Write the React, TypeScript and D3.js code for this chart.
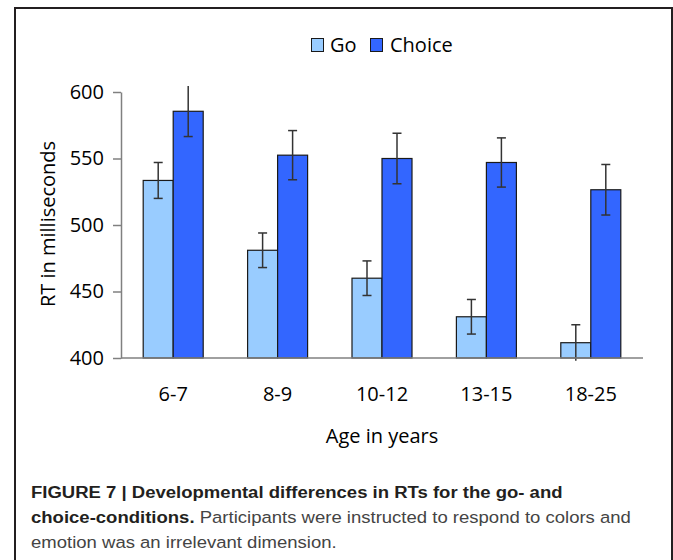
import { useRef, useEffect } from "react";
import * as d3 from "d3";

// Age groups on the x axis
const AGE_GROUPS = ["6-7", "8-9", "10-12", "13-15", "18-25"];
const SERIES = ["Go", "Choice"];

// Mean RT (ms) and error bar half-widths
const GO_RT = [533.5, 481, 460, 431, 411.5];
const GO_ERR = [13.5, 13, 13, 13, 13.5];
const CHOICE_RT = [585.5, 552.5, 550, 547, 526.5];
const CHOICE_ERR = [19, 18.5, 19, 18.5, 19];

const Y_TICKS = [400, 450, 500, 550, 600];

const COLORS: Record<string, string> = { Go: "#99ccff", Choice: "#3366ff" };

const W = 673;
const H = 560;

export default function App() {
  const svgRef = useRef<SVGSVGElement>(null);

  useEffect(() => {
    document.body.style.margin = "0";
    if (!svgRef.current) return;
    const svg = d3.select(svgRef.current);
    svg.selectAll("*").remove();

    const font = "'Open Sans', 'DejaVu Sans', sans-serif";
    const fs = 20;

    // outer frame (open at the bottom)
    svg
      .append("path")
      .attr("d", `M15,${H + 5} L15,8 L672,8 L672,${H + 5}`)
      .attr("fill", "none")
      .attr("stroke", "#231f20")
      .attr("stroke-width", 2);

    const x0 = d3.scaleBand().domain(AGE_GROUPS).range([121, 643]).padding(0);
    const x1 = d3
      .scaleBand()
      .domain(SERIES)
      .range([0, x0.bandwidth()])
      .paddingInner(0)
      .paddingOuter(0.74);
    const y = d3.scaleLinear().domain([400, 600]).range([358, 92]);

    const rows = AGE_GROUPS.map((g, i) => ({
      group: g,
      bars: [
        { s: "Go", v: GO_RT[i], e: GO_ERR[i] },
        { s: "Choice", v: CHOICE_RT[i], e: CHOICE_ERR[i] },
      ],
    }));

    // y axis
    const yAxis = svg.append("g").attr("transform", "translate(121,0)");
    yAxis.call(d3.axisLeft(y).tickValues(Y_TICKS).tickSize(8).tickPadding(9).tickSizeOuter(0));
    yAxis.select(".domain").attr("stroke", "#808080").attr("stroke-width", 1.5);
    yAxis.selectAll(".tick line").attr("stroke", "#808080").attr("stroke-width", 1.5);
    yAxis
      .selectAll(".tick text")
      .attr("fill", "#000")
      .attr("font-family", font)
      .attr("font-size", fs);

    // bars
    const groups = svg
      .selectAll("g.grp")
      .data(rows)
      .join("g")
      .attr("class", "grp")
      .attr("transform", (d) => `translate(${x0(d.group)},0)`);

    groups
      .selectAll("rect")
      .data((d) => d.bars)
      .join("rect")
      .attr("x", (d) => x1(d.s)!)
      .attr("y", (d) => y(d.v))
      .attr("width", x1.bandwidth())
      .attr("height", (d) => y(400) - y(d.v))
      .attr("fill", (d) => COLORS[d.s])
      .attr("stroke", "#1a1a1a")
      .attr("stroke-width", 1.2);

    // x axis line
    svg
      .append("line")
      .attr("x1", 121)
      .attr("x2", 643)
      .attr("y1", y(400))
      .attr("y2", y(400))
      .attr("stroke", "#808080")
      .attr("stroke-width", 1.5);

    // error bars - caps only drawn inside the axis range
    const err = groups
      .selectAll("g.err")
      .data((d) => d.bars)
      .join("g")
      .attr("class", "err")
      .attr("transform", (d) => `translate(${x1(d.s)! + x1.bandwidth() / 2},0)`);
    err
      .append("line")
      .attr("y1", (d) => y(d.v + d.e))
      .attr("y2", (d) => y(d.v - d.e))
      .attr("stroke", "#333")
      .attr("stroke-width", 1.5);
    err.each(function (d) {
      const g = d3.select(this);
      [d.v + d.e, d.v - d.e].forEach((val) => {
        if (val < 400 || val > 600) return;
        g.append("line")
          .attr("x1", -4.5)
          .attr("x2", 4.5)
          .attr("y1", y(val))
          .attr("y2", y(val))
          .attr("stroke", "#333")
          .attr("stroke-width", 1.5);
      });
    });

    // x tick labels
    svg
      .selectAll("text.xl")
      .data(AGE_GROUPS)
      .join("text")
      .attr("class", "xl")
      .attr("x", (d) => x0(d)! + x0.bandwidth() / 2)
      .attr("y", 401)
      .attr("text-anchor", "middle")
      .attr("font-family", font)
      .attr("font-size", fs)
      .text((d) => d);

    // axis titles
    svg
      .append("text")
      .attr("x", 382)
      .attr("y", 443)
      .attr("text-anchor", "middle")
      .attr("font-family", font)
      .attr("font-size", fs)
      .text("Age in years");
    svg
      .append("text")
      .attr("transform", "translate(55,224) rotate(-90)")
      .attr("text-anchor", "middle")
      .attr("font-family", font)
      .attr("font-size", fs)
      .text("RT in milliseconds");

    // legend
    const legend = svg.append("g").attr("transform", "translate(311,38)");
    const items = [
      { s: "Go", x: 0, tx: 19 },
      { s: "Choice", x: 59, tx: 79 },
    ];
    items.forEach((it) => {
      legend
        .append("rect")
        .attr("x", it.x + 0.5)
        .attr("y", 0.5)
        .attr("width", 12)
        .attr("height", 13)
        .attr("fill", COLORS[it.s])
        .attr("stroke", "#1a1a1a")
        .attr("stroke-width", 1);
      legend
        .append("text")
        .attr("x", it.tx)
        .attr("y", 14)
        .attr("font-family", font)
        .attr("font-size", fs)
        .text(it.s);
    });

    // caption - the original face is a little wider than Liberation Sans
    const cap = "'Liberation Sans', Arial, sans-serif";
    const capLine = (yy: number) =>
      svg
        .append("text")
        .attr("transform", `translate(31,${yy}) scale(1.09,1)`)
        .attr("font-family", cap)
        .attr("font-size", 17)
        .attr("fill", "#444");
    capLine(498)
      .attr("font-weight", "bold")
      .attr("fill", "#231f20")
      .text("FIGURE 7 | Developmental differences in RTs for the go- and");
    const l2 = capLine(523);
    l2.append("tspan")
      .attr("font-weight", "bold")
      .attr("fill", "#231f20")
      .text("choice-conditions.");
    l2.append("tspan").text(" Participants were instructed to respond to colors and");
    capLine(548).text("emotion was an irrelevant dimension.");
  }, []);

  return (
    <svg
      ref={svgRef}
      width={W}
      height={H}
      style={{ display: "block", background: "#fff" }}
    />
  );
}
